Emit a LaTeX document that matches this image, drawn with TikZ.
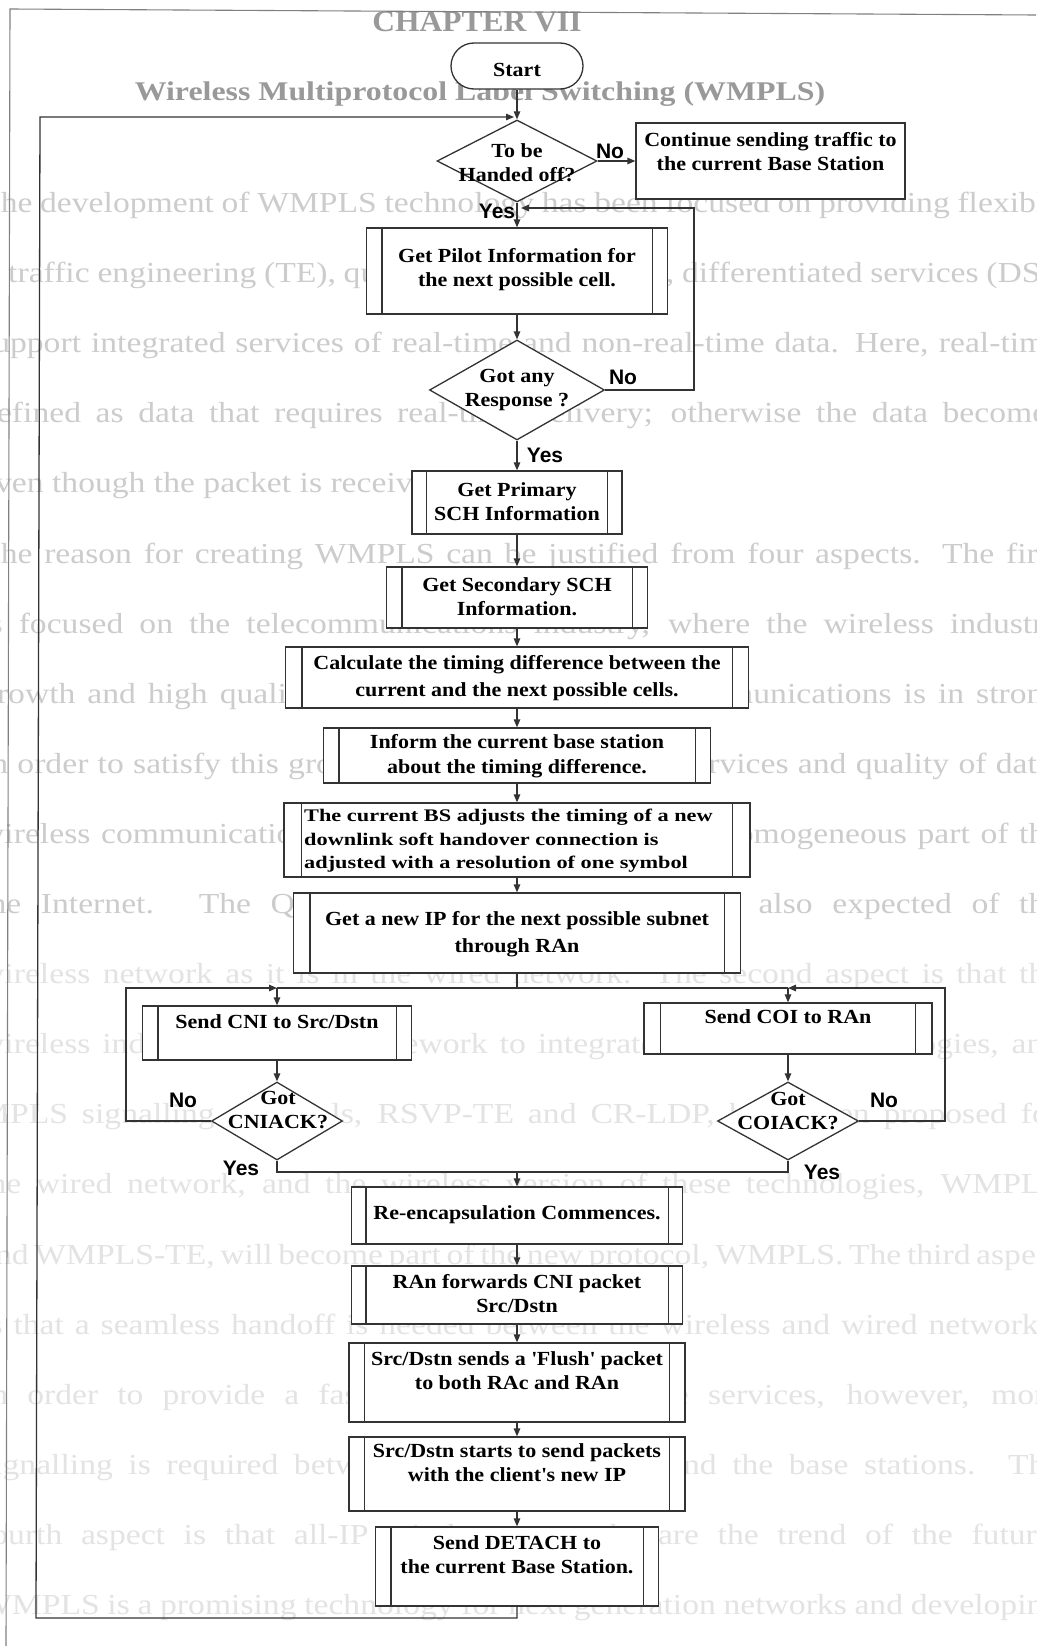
\documentclass[tikz,border=0pt]{standalone}
\usepackage{fontspec}
\setmainfont{Liberation Serif}
\newfontfamily\boxfont[FakeStretch=1.1]{Liberation Serif}
\newfontfamily\wideboxfont[FakeStretch=1.26]{Liberation Serif}
\newfontfamily\labelfont{Liberation Sans}
\newfontfamily\chapfont[FakeStretch=1.05]{Liberation Serif}
\newfontfamily\titlefont[FakeStretch=1.18]{Liberation Serif}
\newfontfamily\pagefont[FakeStretch=1.16]{Liberation Serif}
\usetikzlibrary{shapes.geometric,arrows.meta}

\tikzset{
  ink/.style={draw=black!80, line width=1.3pt},
  flow/.style={ink, -{Triangle[length=8pt,width=6.5pt]}},
  procbox/.style={ink, fill=white, rectangle, inner sep=0pt},
  termbox/.style={procbox, rounded corners=23pt},
  decision/.style={ink, fill=white, diamond, inner sep=0pt},
  boxtext/.style={font=\boxfont\bfseries\fontsize{20}{24}\selectfont, align=center, inner sep=0pt},
  widetext/.style={font=\wideboxfont\bfseries\fontsize{17.7}{23.5}\selectfont, align=left, inner sep=0pt, anchor=west},
  answer/.style={font=\labelfont\bfseries\fontsize{21}{24}\selectfont, inner sep=0pt},
  pageline/.style={font=\pagefont\fontsize{29}{30}\selectfont, text=black!20, anchor=mid west, inner sep=0pt},
  faintline/.style={pageline, text=black!11},
  heading/.style={text=black!40, anchor=base, inner sep=0pt},
}
% double vertical bars of a predefined-process box
\newcommand\sidebars[2]{%
  \draw[ink] ([xshift=#2]#1.north west) -- ([xshift=#2]#1.south west);
  \draw[ink] ([xshift=-#2]#1.north east) -- ([xshift=-#2]#1.south east);}
% one justified line of the printed page behind the chart
\newcommand\pagetext[2][1080pt]{\makebox[#1][s]{#2}}

\begin{document}
\begin{tikzpicture}[x=1pt,y=-1pt]
\useasboundingbox (0,0) rectangle (1036,1646);
\fill[white] (0,0) rectangle (1036,1646);

% ---- page text showing through ----
\begin{scope}
\clip (0,0) rectangle (1036,1646);
\node[heading, font=\chapfont\bfseries\fontsize{30}{30}\selectfont] (chap) at (477,32) {CHAPTER VII};
\node[heading, font=\titlefont\bfseries\fontsize{27}{30}\selectfont] (title) at (480,100) {Wireless Multiprotocol Label Switching (WMPLS)};
\node[pageline] (pg0) at (-20,210) {\pagetext{The development of WMPLS technology has been focused on providing flexible}};
\node[pageline] (pg1) at (8,280) {\pagetext[1052pt]{traffic engineering (TE), quality of service (QoS), differentiated services (DS),}};
\node[pageline] (pg2) at (-20,350) {\pagetext{support integrated services of real-time and non-real-time data. Here, real-time}};
\node[pageline] (pg3) at (-20,420) {\pagetext{defined as data that requires real-time delivery; otherwise the data becomes}};
\node[pageline] (pg4) at (-20,490) {even though the packet is received late.};
\node[pageline] (pg5) at (-20,561) {\pagetext{The reason for creating WMPLS can be justified from four aspects. The first}};
\node[pageline] (pg6) at (-20,631) {\pagetext{is focused on the telecommunications industry, where the wireless industry}};
\node[pageline] (pg7) at (-20,701) {\pagetext{growth and high quality broadband wireless data communications is in strong}};
\node[pageline] (pg8) at (-20,771) {\pagetext{In order to satisfy this growing demand for diverse services and quality of data,}};
\node[pageline] (pg9) at (-20,841) {\pagetext{wireless communications network needs to become a homogeneous part of the}};
\node[pageline] (pg10) at (-20,911) {\pagetext{the Internet. The QoS in the wireless network is also expected of the}};
\node[faintline] (pg11) at (-20,981) {\pagetext{wireless network as it is in the wired network. The second aspect is that the}};
\node[faintline] (pg12) at (-20,1051) {\pagetext{wireless industry needs a framework to integrate the MPLS technologies, and}};
\node[faintline] (pg13) at (-20,1121) {\pagetext{MPLS signalling protocols, RSVP-TE and CR-LDP, have been proposed for}};
\node[faintline] (pg14) at (-20,1191) {\pagetext{the wired network, and the wireless version of these technologies, WMPLS}};
\node[faintline] (pg15) at (-20,1262) {\pagetext{and WMPLS-TE, will become part of the new protocol, WMPLS. The third aspect}};
\node[faintline] (pg16) at (-20,1332) {\pagetext{is that a seamless handoff is needed between the wireless and wired networks.}};
\node[faintline] (pg17) at (-20,1402) {\pagetext{In order to provide a fast handoff for real-time services, however, more}};
\node[faintline] (pg18) at (-20,1472) {\pagetext{signalling is required between the mobile node and the base stations. The}};
\node[faintline] (pg19) at (-20,1542) {\pagetext{fourth aspect is that all-IP wireless networks are the trend of the future.}};
\node[faintline] (pg20) at (-20,1612) {\pagetext{WMPLS is a promising technology for next generation networks and developing}};
\end{scope}

% figure frame
\draw[draw=black!50, line width=1.1pt] (6,1646) -- (10,9) -- (1036,15);

% ---- chart nodes ----
\node[termbox, minimum width=132pt, minimum height=46pt] (start) at (517,66) {};
\node[boxtext] (startT) at (517,70) {Start};

\node[decision, minimum width=160pt, minimum height=82pt] (hand) at (517,161) {};
\node[boxtext] (handT) at (517,163) {To be\\Handed off?};

\node[procbox, minimum width=269pt, minimum height=76pt] (cont) at (770.5,161) {};
\node[boxtext] (contT) at (770.5,152) {Continue sending traffic to\\the current Base Station};

\node[procbox, minimum width=301pt, minimum height=86pt] (pilot) at (517,271) {};
\node[boxtext] (pilotT) at (517,270) {Get Pilot Information for\\the next possible cell.};
\sidebars{pilot}{16pt}

\node[decision, minimum width=175pt, minimum height=100pt] (resp) at (517,390) {};
\node[boxtext] (respT) at (517,390) {Got any\\Response ?};

\node[procbox, minimum width=210pt, minimum height=63pt] (prim) at (517,502.5) {};
\node[boxtext] (primT) at (517,502) {Get Primary\\SCH Information};
\sidebars{prim}{15pt}

\node[procbox, minimum width=261pt, minimum height=61pt] (sec) at (517,597.5) {};
\node[boxtext] (secT) at (517,597) {Get Secondary SCH\\Information.};
\sidebars{sec}{16pt}

\node[procbox, minimum width=463pt, minimum height=61pt] (calc) at (517,677.5) {};
\node[boxtext] (calcT) at (517,678) {Calculate the timing difference between the\\[3pt]current and the next possible cells.};
\sidebars{calc}{17pt}

\node[procbox, minimum width=387pt, minimum height=55pt] (inform) at (517,755.5) {};
\node[boxtext] (informT) at (517,756) {Inform the current base station\\[1pt]about the timing difference.};
\sidebars{inform}{16pt}

\node[procbox, minimum width=466pt, minimum height=74pt] (adjust) at (517,840) {};
\node[widetext] (adjustT) at (304,841) {The current BS adjusts the timing of a new\\downlink soft handover connection is\\adjusted with a resolution of one symbol};
\sidebars{adjust}{18pt}

\node[procbox, minimum width=447pt, minimum height=80pt] (ip) at (517,933) {};
\node[boxtext] (ipT) at (517,934) {Get a new IP for the next possible subnet\\[3pt]through RAn};
\sidebars{ip}{17pt}

\node[procbox, minimum width=269pt, minimum height=54pt] (cni) at (277,1033) {};
\node[boxtext] (cniT) at (277,1022) {Send CNI to Src/Dstn};
\sidebars{cni}{16pt}

\node[procbox, minimum width=288pt, minimum height=51pt] (coi) at (788,1028.5) {};
\node[boxtext] (coiT) at (788,1017) {Send COI to RAn};
\sidebars{coi}{17pt}

\node[decision, minimum width=131pt, minimum height=78pt] (ackn) at (277,1121) {};
\node[boxtext] (acknT) at (278,1110) {Got\\CNIACK?};

\node[decision, minimum width=141pt, minimum height=78pt] (acko) at (788,1121) {};
\node[boxtext] (ackoT) at (788,1111) {Got\\COIACK?};

\node[procbox, minimum width=331pt, minimum height=57pt] (reenc) at (517,1215.5) {};
\node[boxtext] (reencT) at (517,1215) {Re-encapsulation Commences.};
\sidebars{reenc}{15pt}

\node[procbox, minimum width=331pt, minimum height=58pt] (ran) at (517,1295) {};
\node[boxtext] (ranT) at (517,1294) {RAn forwards CNI packet\\Src/Dstn};
\sidebars{ran}{15pt}

\node[procbox, minimum width=336pt, minimum height=79pt] (flush) at (517,1382.5) {};
\node[boxtext] (flushT) at (517,1371) {Src/Dstn sends a \textquotesingle Flush\textquotesingle{} packet\\to both RAc and RAn};
\sidebars{flush}{16pt}

\node[procbox, minimum width=336pt, minimum height=74pt] (sendnew) at (517,1474) {};
\node[boxtext] (sendnewT) at (517,1462.5) {Src/Dstn starts to send packets\\with the client\textquotesingle s new IP};
\sidebars{sendnew}{16pt}

\node[procbox, minimum width=283pt, minimum height=79pt] (detach) at (517,1566.5) {};
\node[boxtext] (detachT) at (517,1555) {Send DETACH to\\the current Base Station.};
\sidebars{detach}{16pt}

% ---- connectors ----
\coordinate (loopTop) at (514,117);
\coordinate (loopTL) at (40,117);
\coordinate (loopBL) at (36,1618);
\coordinate (retryR) at (694,390);
\coordinate (retryT) at (694,208);
\coordinate (retryEnd) at (521,208);
\coordinate (split) at (517,988);
\coordinate (cniIn) at (277,988);
\coordinate (coiIn) at (788,988);
\coordinate (nackL) at (126,1121);
\coordinate (nackLT) at (126,988);
\coordinate (nackR) at (945,1121);
\coordinate (nackRT) at (945,988);
\coordinate (merge) at (517,1172);

\draw[flow] (start.south) -- (hand.north);
\draw[flow] (detach.south) |- (loopBL) -- (loopTL) -- (loopTop);
\draw[flow] (hand.east) -- (cont.west);
\draw[flow] (hand.south) -- (pilot.north);
\draw[flow] (pilot.south) -- (resp.north);
\draw[flow] (resp.east) -- (retryR) -- (retryT) -- (retryEnd);
\draw[flow] (resp.south) -- (prim.north);
\draw[flow] (prim.south) -- (sec.north);
\draw[flow] (sec.south) -- (calc.north);
\draw[flow] (calc.south) -- (inform.north);
\draw[flow] (inform.south) -- (adjust.north);
\draw[flow] (adjust.south) -- (ip.north);
\draw[ink] (ip.south) -- (split);
\draw[ink] (split) -- (cniIn);
\draw[ink] (split) -- (coiIn);
\draw[flow] (ackn.west) -- (nackL) -- (nackLT) -- (cniIn);
\draw[flow] (acko.east) -- (nackR) -- (nackRT) -- (coiIn);
\draw[flow] (cniIn) -- (cni.north);
\draw[flow] (coiIn) -- (coi.north);
\draw[flow] (cni.south) -- (ackn.north);
\draw[flow] (coi.south) -- (acko.north);
\draw[ink] (ackn.south) |- (merge);
\draw[ink] (acko.south) |- (merge);
\draw[flow] (merge) -- (reenc.north);
\draw[flow] (reenc.south) -- (ran.north);
\draw[flow] (ran.south) -- (flush.north);
\draw[flow] (flush.south) -- (sendnew.north);
\draw[flow] (sendnew.south) -- (detach.north);

% ---- branch answers ----
\node[answer] (noHand) at (610,151) {No};
\node[answer] (yesHand) at (497,211) {Yes};
\node[answer] (noResp) at (623,377) {No};
\node[answer] (yesResp) at (545,455) {Yes};
\node[answer] (noCni) at (183,1100) {No};
\node[answer] (yesCni) at (241,1168) {Yes};
\node[answer] (noCoi) at (884,1100) {No};
\node[answer] (yesCoi) at (822,1172) {Yes};
\end{tikzpicture}
\end{document}
